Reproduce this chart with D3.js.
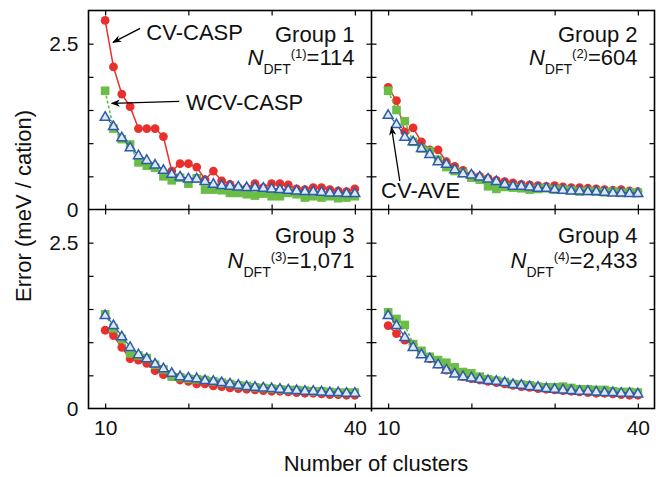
<!DOCTYPE html>
<html>
<head>
<meta charset="utf-8">
<script src="https://cdn.jsdelivr.net/npm/d3@7"></script>
<style>
  body { margin: 0; background: #fff; }
  svg { font-family: "Liberation Sans", Arial, Helvetica, sans-serif; }
  .tick line { stroke: #000; stroke-width: 1.2; }
  .tick text { font-size: 21px; fill: #111; }
</style>
</head>
<body>
<svg class="chart"></svg>
<script>
// number of clusters on the x axis
var clusters = [10, 11, 12, 13, 14, 15, 16, 17, 18, 19, 20, 21, 22, 23, 24, 25,
                26, 27, 28, 29, 30, 31, 32, 33, 34, 35, 36, 37, 38, 39, 40];

var yTickLabels = [0, 2.5];
var xTickLabels = [10, 40];

var groupNames = ["Group 1", "Group 2", "Group 3", "Group 4"];
var groupSizes = ["114", "604", "1,071", "2,433"];

// group 1
var g1CvCasp = [2.85, 2.15, 1.74, 1.55, 1.22, 1.22, 1.22, 1.10, 0.58, 0.69, 0.69, 0.64, 0.45, 0.58, 0.43, 0.38,
                0.33, 0.32, 0.39, 0.33, 0.39, 0.39, 0.37, 0.31, 0.30, 0.33, 0.33, 0.30, 0.28, 0.27, 0.31];
var g1WcvCasp = [1.79, 1.22, 1.06, 0.98, 0.71, 0.66, 0.63, 0.50, 0.44, 0.48, 0.39, 0.47, 0.30, 0.30, 0.29, 0.25,
                 0.25, 0.23, 0.21, 0.24, 0.20, 0.20, 0.25, 0.23, 0.18, 0.20, 0.18, 0.20, 0.17, 0.18, 0.20];
var g1CvAve = [1.40, 1.26, 1.09, 0.94, 0.82, 0.75, 0.68, 0.60, 0.54, 0.50, 0.47, 0.47, 0.43, 0.39, 0.37, 0.36,
               0.35, 0.34, 0.34, 0.33, 0.32, 0.31, 0.30, 0.29, 0.28, 0.28, 0.27, 0.26, 0.26, 0.25, 0.25];

// group 2
var g2CvCasp = [1.84, 1.64, 1.17, 1.23, 1.02, 0.90, 0.90, 0.72, 0.65, 0.59, 0.52, 0.50, 0.47, 0.44, 0.42, 0.40,
                0.38, 0.37, 0.36, 0.35, 0.36, 0.34, 0.33, 0.33, 0.32, 0.31, 0.30, 0.29, 0.30, 0.28, 0.27];
var g2WcvCasp = [1.79, 1.50, 1.33, 1.02, 0.92, 0.88, 0.75, 0.64, 0.58, 0.55, 0.48, 0.45, 0.35, 0.31, 0.34, 0.33,
                 0.32, 0.30, 0.31, 0.32, 0.30, 0.30, 0.29, 0.27, 0.28, 0.27, 0.26, 0.27, 0.25, 0.26, 0.25];
var g2CvAve = [1.43, 1.29, 1.10, 1.03, 0.93, 0.84, 0.73, 0.69, 0.61, 0.55, 0.53, 0.50, 0.47, 0.43, 0.39, 0.36,
               0.36, 0.35, 0.33, 0.33, 0.31, 0.30, 0.29, 0.29, 0.28, 0.28, 0.27, 0.26, 0.26, 0.25, 0.25];

// group 3
var g3CvCasp = [1.18, 1.10, 0.92, 0.75, 0.73, 0.68, 0.57, 0.51, 0.48, 0.43, 0.41, 0.37, 0.37, 0.34, 0.33, 0.31,
                0.30, 0.29, 0.28, 0.27, 0.26, 0.26, 0.25, 0.24, 0.23, 0.23, 0.22, 0.21, 0.21, 0.20, 0.20];
var g3WcvCasp = [1.42, 1.21, 1.05, 0.83, 0.80, 0.76, 0.66, 0.59, 0.48, 0.47, 0.45, 0.44, 0.43, 0.41, 0.39, 0.37,
                 0.35, 0.34, 0.32, 0.31, 0.30, 0.29, 0.28, 0.28, 0.27, 0.26, 0.26, 0.25, 0.24, 0.24, 0.24];
var g3CvAve = [1.41, 1.26, 1.09, 0.93, 0.82, 0.76, 0.68, 0.61, 0.54, 0.49, 0.47, 0.46, 0.43, 0.42, 0.40, 0.38,
               0.36, 0.34, 0.33, 0.32, 0.31, 0.30, 0.29, 0.28, 0.27, 0.27, 0.26, 0.25, 0.25, 0.24, 0.24];

// group 4
var g4CvCasp = [1.25, 1.13, 1.03, 0.97, 0.84, 0.75, 0.67, 0.58, 0.54, 0.48, 0.45, 0.43, 0.41, 0.39, 0.37, 0.35,
                0.33, 0.32, 0.30, 0.29, 0.28, 0.27, 0.26, 0.25, 0.24, 0.23, 0.23, 0.22, 0.21, 0.20, 0.20];
var g4WcvCasp = [1.45, 1.35, 1.26, 0.97, 0.87, 0.78, 0.73, 0.69, 0.62, 0.55, 0.53, 0.48, 0.44, 0.42, 0.40, 0.37,
                 0.36, 0.35, 0.33, 0.32, 0.32, 0.33, 0.31, 0.29, 0.29, 0.28, 0.28, 0.26, 0.25, 0.25, 0.24];
var g4CvAve = [1.41, 1.26, 1.08, 0.93, 0.82, 0.76, 0.67, 0.59, 0.53, 0.49, 0.47, 0.45, 0.43, 0.42, 0.40, 0.37,
               0.36, 0.34, 0.33, 0.31, 0.30, 0.29, 0.28, 0.27, 0.27, 0.26, 0.25, 0.25, 0.24, 0.24, 0.23];


var margin = {top: 10.5, left: 88.5},
    panelW = 283,
    panelH = 199;

var red = "#e8302c", green = "#6abd45", blue = "#2e5ca8";

var x = d3.scaleLinear().domain([8, 42]).range([0, panelW]);
var y = d3.scaleLinear().domain([0, 3]).range([panelH, 0]);

var panels = [
  {name: groupNames[0], n: groupSizes[0], idx: 1, col: 0, row: 0, cvCasp: g1CvCasp, wcvCasp: g1WcvCasp, cvAve: g1CvAve},
  {name: groupNames[1], n: groupSizes[1], idx: 2, col: 1, row: 0, cvCasp: g2CvCasp, wcvCasp: g2WcvCasp, cvAve: g2CvAve},
  {name: groupNames[2], n: groupSizes[2], idx: 3, col: 0, row: 1, cvCasp: g3CvCasp, wcvCasp: g3WcvCasp, cvAve: g3CvAve},
  {name: groupNames[3], n: groupSizes[3], idx: 4, col: 1, row: 1, cvCasp: g4CvCasp, wcvCasp: g4WcvCasp, cvAve: g4CvAve}
];

var svg = d3.select(".chart")
    .attr("width", 656)
    .attr("height", 477);

svg.append("defs").append("marker")
    .attr("id", "arrow")
    .attr("viewBox", "0 0 10 10")
    .attr("refX", 9).attr("refY", 5)
    .attr("markerWidth", 9).attr("markerHeight", 9)
    .attr("markerUnits", "userSpaceOnUse")
    .attr("orient", "auto")
  .append("path")
    .attr("d", "M0,1 L10,5 L0,9 L3,5 z")
    .attr("fill", "#000");

const toPts = (vals) => vals.map((v, i) => ({k: clusters[i], v: v}));

var line = d3.line().x(d => x(d.k)).y(d => y(d.v));

panels.forEach((p) => {
  var g = svg.append("g")
      .attr("transform", `translate(${margin.left + p.col * panelW},${margin.top + p.row * panelH})`);

  // inward ticks on all four sides
  g.append("g").call(d3.axisLeft(y).tickValues([0.5, 1, 1.5, 2, 2.5]).tickSize(-5).tickFormat(""));
  g.append("g").attr("transform", `translate(${panelW},0)`)
      .call(d3.axisRight(y).tickValues([0.5, 1, 1.5, 2, 2.5]).tickSize(-5).tickFormat(""));
  g.append("g").attr("transform", `translate(0,${panelH})`)
      .call(d3.axisBottom(x).tickValues([10, 20, 30, 40]).tickSize(-5).tickFormat(""));
  g.append("g")
      .call(d3.axisTop(x).tickValues([10, 20, 30, 40]).tickSize(-5).tickFormat(""));
  g.selectAll(".domain").remove();

  if (p.col === 0) {
    var yl = g.append("g").call(d3.axisLeft(y).tickValues(yTickLabels).tickSize(0).tickPadding(10)
        .tickFormat(d => d === 0 ? "0" : d3.format(".1f")(d)));
    yl.select(".domain").remove();
  }
  if (p.row === 1) {
    var xl = g.append("g").attr("transform", `translate(0,${panelH})`)
        .call(d3.axisBottom(x).tickValues(xTickLabels).tickSize(0).tickPadding(12));
    xl.select(".domain").remove();
  }

  // series: CV-CASP (red), WCV-CASP (green), CV-AVE (blue)
  var red_ = toPts(p.cvCasp), grn = toPts(p.wcvCasp), blu = toPts(p.cvAve);

  g.append("path").datum(red_).attr("d", line)
      .attr("fill", "none").attr("stroke", red).attr("stroke-width", 1.5);
  g.selectAll(".red").data(red_).enter().append("circle")
      .attr("cx", d => x(d.k)).attr("cy", d => y(d.v)).attr("r", 4.4)
      .attr("fill", red);

  g.append("path").datum(grn).attr("d", line)
      .attr("fill", "none").attr("stroke", green).attr("stroke-width", 1.6)
      .attr("stroke-dasharray", "3,2");
  g.selectAll(".grn").data(grn).enter().append("rect")
      .attr("x", d => x(d.k) - 4.3).attr("y", d => y(d.v) - 4.3)
      .attr("width", 8.6).attr("height", 8.6)
      .attr("fill", green);

  g.append("path").datum(blu).attr("d", line)
      .attr("fill", "none").attr("stroke", blue).attr("stroke-width", 1.2);
  g.selectAll(".blu").data(blu).enter().append("path")
      .attr("transform", d => `translate(${x(d.k)},${y(d.v) + 0.8})`)
      .attr("d", d3.symbol().type(d3.symbolTriangle).size(42))
      .attr("fill", "#dfe8f6").attr("stroke", blue).attr("stroke-width", 1.5);

  // group labels
  g.append("text")
      .attr("x", panelW - 17).attr("y", p.row === 0 ? 31.5 : 33.5)
      .attr("text-anchor", "end")
      .attr("font-size", 22).attr("fill", "#111")
      .text(p.name);

  var t = g.append("text")
      .attr("x", panelW - 17).attr("y", p.row === 0 ? 54.5 : 58.5)
      .attr("text-anchor", "end")
      .attr("font-size", 22).attr("fill", "#111");
  t.append("tspan").attr("font-style", "italic").text("N");
  t.append("tspan").attr("font-size", 14).attr("dy", 9).text("DFT");
  t.append("tspan").attr("font-size", 13).attr("dy", -16).text(`(${p.idx})`);
  t.append("tspan").attr("dy", 7).text(`=${p.n}`);

  p.g = g;
});

// frame and dividers
svg.append("rect")
    .attr("x", margin.left).attr("y", margin.top)
    .attr("width", panelW * 2).attr("height", panelH * 2)
    .attr("fill", "none").attr("stroke", "#000").attr("stroke-width", 1.6);
svg.append("line")
    .attr("x1", margin.left + panelW).attr("x2", margin.left + panelW)
    .attr("y1", margin.top).attr("y2", margin.top + panelH * 2 + 3)
    .attr("stroke", "#000").attr("stroke-width", 1.6);
svg.append("line")
    .attr("x1", margin.left).attr("x2", margin.left + panelW * 2)
    .attr("y1", margin.top + panelH).attr("y2", margin.top + panelH)
    .attr("stroke", "#000").attr("stroke-width", 1.6);

// annotations, placed in data space
const annotate = (g, label, tx, ty, from, to) => {
  g.append("text")
      .attr("x", x(tx)).attr("y", y(ty))
      .attr("font-size", 22).attr("fill", "#111")
      .text(label);
  g.append("line")
      .attr("x1", x(from[0])).attr("y1", y(from[1]))
      .attr("x2", x(to[0])).attr("y2", y(to[1]))
      .attr("stroke", "#000").attr("stroke-width", 1.3)
      .attr("marker-end", "url(#arrow)");
};

annotate(panels[0].g, "CV-CASP", 14.95, 2.56, [14.2, 2.73], [10.95, 2.52]);
annotate(panels[0].g, "WCV-CASP", 19.7, 1.50, [18.9, 1.63], [10.8, 1.60]);
annotate(panels[1].g, "CV-AVE", 9.15, 0.18, [11.4, 0.43], [10.4, 1.24]);

// axis titles
svg.append("text")
    .attr("transform", "translate(31,206) rotate(-90)")
    .attr("text-anchor", "middle")
    .attr("font-size", 22).attr("fill", "#111")
    .text("Error (meV / cation)");

svg.append("text")
    .attr("x", 376).attr("y", 471)
    .attr("text-anchor", "middle")
    .attr("font-size", 22).attr("fill", "#111")
    .text("Number of clusters");
</script>
</body>
</html>
